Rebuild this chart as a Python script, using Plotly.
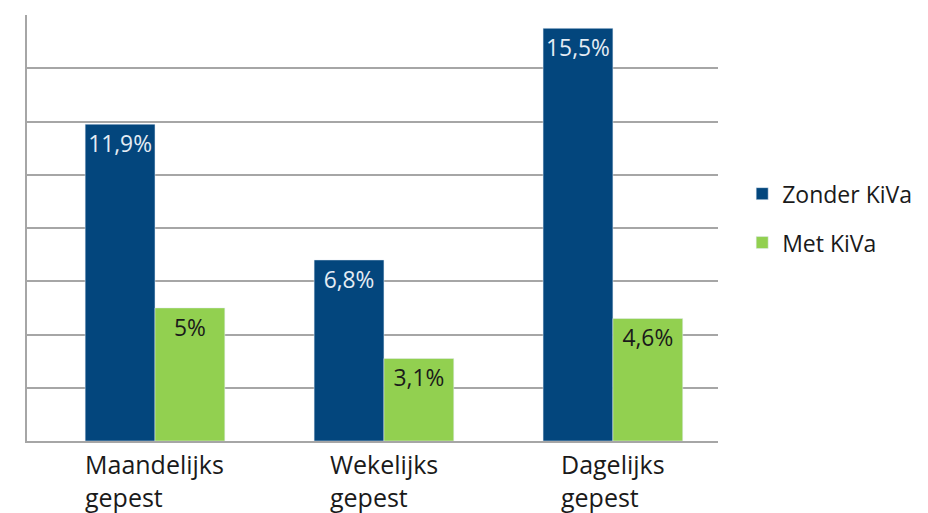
import plotly.graph_objects as go

categories = ["Maandelijks<br>gepest", "Wekelijks<br>gepest", "Dagelijks<br>gepest"]
series_names = ["Zonder KiVa", "Met KiVa"]
zonder = [11.9, 6.8, 15.5]
met = [5.0, 3.1, 4.6]
zonder_labels = ["11,9%", "6,8%", "15,5%"]
met_labels = ["5%", "3,1%", "4,6%"]

FONT = "Open Sans"
fig = go.Figure()
fig.add_trace(go.Bar(
    x=categories, y=zonder, name=series_names[0], marker_color="#03467D",
    text=zonder_labels, textposition="inside", insidetextanchor="end",
    textfont=dict(family=FONT, size=24, color="#E4ECF4"), textangle=0,
    legendgroup="a",
))
fig.add_trace(go.Bar(
    x=categories, y=met, name=series_names[1], marker_color="#92D050",
    text=met_labels, textposition="inside", insidetextanchor="end",
    textfont=dict(family=FONT, size=24, color="#1A1A1A"), textangle=0,
    legendgroup="b",
))

for c in categories:
    fig.add_annotation(x=c, xref="x", y=0, yref="paper", yanchor="top", yshift=-4,
                       text=c, showarrow=False, align="left",
                       font=dict(family=FONT, size=25, color="#1A1A1A"))

# page body has an 8px margin: figure is placed at (8, 8)
fig.update_layout(
    width=920, height=505,
    margin=dict(l=19, r=210, t=7, b=72, autoexpand=False),
    paper_bgcolor="white", plot_bgcolor="white",
    barmode="group", bargap=0.39, bargroupgap=0,
    font=dict(family=FONT, size=24, color="#1A1A1A"),
    uniformtext=dict(minsize=10, mode="show"),
    legend=dict(x=1.035, xanchor="left", y=0.523, yanchor="middle",
                font=dict(family=FONT, size=23, color="#1A1A1A"),
                tracegroupgap=16, traceorder="grouped", itemwidth=30),
    showlegend=True,
)
fig.update_xaxes(range=[-0.559, 2.459], showticklabels=False, showline=True,
                 linecolor="#A6A6A6", linewidth=2, showgrid=False, ticks="")
fig.update_yaxes(range=[0, 16], dtick=2, showticklabels=False, showgrid=True,
                 gridcolor="#A6A6A6", gridwidth=2, showline=True,
                 linecolor="#A6A6A6", linewidth=2, zeroline=False, ticks="")

fig.write_html("out.html")
